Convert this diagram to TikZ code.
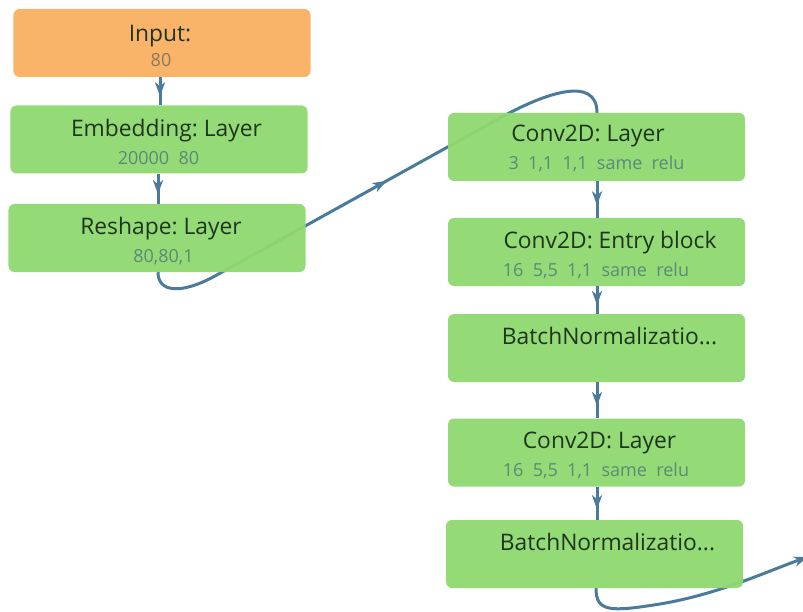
\documentclass[tikz,border=0pt]{standalone}
\usepackage{fontspec}
\setmainfont{Open Sans}
\usetikzlibrary{arrows.meta,decorations.markings,backgrounds}

\definecolor{laygreen}{HTML}{8FD96F}
\definecolor{inorange}{HTML}{F9B063}
\definecolor{flowblue}{HTML}{4A7B9D}
\definecolor{titletext}{HTML}{1E361E}
\definecolor{subtext}{HTML}{5B8A78}
\definecolor{insubtext}{HTML}{8A7762}

\tikzset{
  layer/.style={rounded corners=6bp, fill=laygreen, fill opacity=0.95,
    minimum width=297bp, minimum height=68bp, inner sep=0pt},
  inlayer/.style={layer, fill=inorange},
  title/.style={anchor=base, text=titletext, inner sep=0pt,
    font=\fontsize{22.8bp}{26bp}\selectfont\frenchspacing},
  subtitle/.style={anchor=base, text=subtext, inner sep=0pt,
    font=\fontsize{18bp}{21bp}\selectfont\frenchspacing},
  flow/.style={draw=flowblue, line width=3bp},
  tip/.style={Stealth[length=14bp,width=10bp,inset=4bp]},
  midarrow/.style={postaction={decorate}, decoration={markings,
    mark=at position #1 with {\arrow{Stealth[length=14bp,width=10bp,inset=4bp]}}}},
}

\begin{document}
\begin{tikzpicture}[x=1bp,y=-1bp]
\useasboundingbox (0,0) rectangle (803,612);

% layer boxes
\node[inlayer] (in)   at (162,43)    {};
\node[layer]   (emb)  at (159,139.5) {};
\node[layer]   (resh) at (157,238)   {};
\node[layer]   (convA) at (596.5,147) {};
\node[layer]   (entry) at (596.5,252) {};
\node[layer]   (bnA)  at (596.5,348)  {};
\node[layer]   (convB) at (596.5,452.5) {};
\node[layer]   (bnB)  at (594.5,554)  {};

% labels
\node[title]    (in-t)   at (160,42)   {Input:};
\node[subtitle, text=insubtext] (in-s) at (161,67) {80};
\node[title]    (emb-t)  at (166.5,137) {Embedding: Layer};
\node[subtitle] (emb-s)  at (158.5,165) {20000\ \ 80};
\node[title]    (resh-t) at (161,235)  {Reshape: Layer};
\node[subtitle] (resh-s) at (163.5,262) {80,80,1};
\node[title]    (convA-t) at (588,142) {Conv2D: Layer};
\node[subtitle] (convA-s) at (596.5,170) {3\ \ 1,1\ \ 1,1\ \ same\ \ relu};
\node[title]    (entry-t) at (610,248) {Conv2D: Entry block};
\node[subtitle] (entry-s) at (596,276) {16\ \ 5,5\ \ 1,1\ \ same\ \ relu};
\node[title]    (bnA-t)  at (609.5,344) {BatchNormalizatio...};
\node[title]    (convB-t) at (599.5,448) {Conv2D: Layer};
\node[subtitle] (convB-s) at (596,476) {16\ \ 5,5\ \ 1,1\ \ same\ \ relu};
\node[title]    (bnB-t)  at (607.5,550) {BatchNormalizatio...};

% vertical connectors
\draw[flow, midarrow=0.68] (in.south -| 160,0) -- (emb.north -| 160,0);
\draw[flow, midarrow=0.68] (emb.south -| 158,0) -- (resh.north -| 158,0);
\draw[flow, midarrow=0.66] (convA.south -| 597,0) -- (entry.north -| 597,0);
\draw[flow, midarrow=0.68] (entry.south -| 597,0) -- (bnA.north -| 597,0);
\draw[flow, midarrow=0.66] (bnA.south -| 597,0) -- (convB.north -| 597,0);
\draw[flow, midarrow=0.68] (convB.south -| 597,0) -- (bnB.north -| 597,0);

% long connectors run behind the boxes
\begin{pgfonlayer}{background}
\fill[white] (0,0) rectangle (803,612);
\draw[flow, midarrow=0.52] (resh.south -| 158,0)
  .. controls (158,292) and (180,295) .. (215,276)
  -- (500,118)
  .. controls (545,93) and (597,75) .. (convA.north -| 597,0);
\coordinate (exit) at (808,557);
\draw[flow, -{Stealth[length=14bp,width=10bp,inset=4bp]}] (bnB.south -| 596,0)
  .. controls (596,612) and (610,612) .. (660,604)
  .. controls (720,594) and (770,570) .. (exit);
\end{pgfonlayer}
\end{tikzpicture}
\end{document}
